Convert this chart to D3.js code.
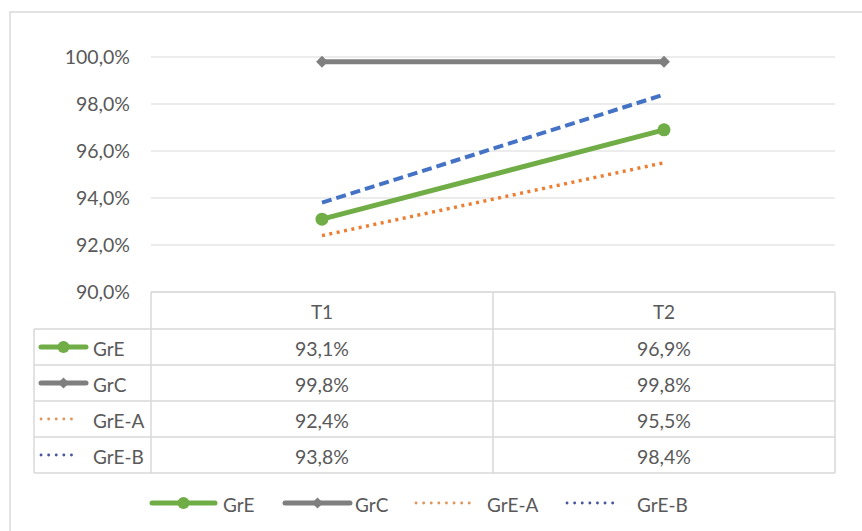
<!DOCTYPE html>
<html>
<head>
<meta charset="utf-8">
<script src="https://cdn.jsdelivr.net/npm/d3@7"></script>
<style>
  html, body { margin: 0; padding: 0; background: #fff; }
  svg { display: block; }
  text { font-family: Lato, "Open Sans", sans-serif; fill: #595959; }
</style>
</head>
<body>
<svg id="chart" width="862" height="531"></svg>
<script>
// ---- data ----
const categories = ["T1", "T2"];
const seriesNames = ["GrE", "GrC", "GrE-A", "GrE-B"];
const grE  = [93.1, 96.9];
const grC  = [99.8, 99.8];
const grEA = [92.4, 95.5];
const grEB = [93.8, 98.4];
const yTicks = [90, 92, 94, 96, 98, 100];

// ---- styles ----
const styles = {
  "GrE":   { color: "#70AD47", width: 5, dash: null, marker: "circle" },
  "GrC":   { color: "#7F7F7F", width: 5, dash: null, marker: "diamond" },
  "GrE-A": { color: "#ED7D31", width: 3.5, dash: "3 4.5", cap: "butt", marker: null, legendColor: "#E0955A" },
  "GrE-B": { color: "#4472C4", width: 4, dash: "10 5", cap: "butt", marker: null, legendColor: "#4A55A0" }
};
const seriesData = { "GrE": grE, "GrC": grC, "GrE-A": grEA, "GrE-B": grEB };

const locale = d3.formatLocale({ decimal: ",", thousands: ".", grouping: [3], currency: ["", "€"] });
const fmt = locale.format(".1f");

const svg = d3.select("#chart");

// outer chart border
svg.append("rect").attr("x", 10).attr("y", 12).attr("width", 900).attr("height", 600)
  .attr("fill", "none").attr("stroke", "#d9d9d9").attr("stroke-width", 1.5);

const plotLeft = 151, plotRight = 835, plotTop = 57, plotBottom = 292;
const x = d3.scaleBand().domain(categories).range([plotLeft, plotRight]);
const y = d3.scaleLinear().domain([90, 100]).range([plotBottom, plotTop]);

// gridlines
svg.append("g").selectAll("line").data(yTicks).join("line")
  .attr("x1", plotLeft).attr("x2", plotRight)
  .attr("y1", d => y(d)).attr("y2", d => y(d))
  .attr("stroke", "#d9d9d9").attr("stroke-width", 1.2);

// y axis labels
const yAxis = d3.axisLeft(y).tickValues(yTicks).tickSize(0).tickPadding(0)
  .tickFormat(d => fmt(d) + "%");
const gy = svg.append("g").attr("transform", `translate(130,0)`).call(yAxis);
gy.select(".domain").remove();
gy.selectAll("text").attr("font-size", 19.5).style("font-family", "Lato, 'Open Sans', sans-serif").attr("fill", "#595959");

// lines
const line = d3.line().x((d, i) => x(categories[i]) + x.bandwidth() / 2).y(d => y(d));
const drawOrder = ["GrC", "GrE-A", "GrE-B", "GrE"];
drawOrder.forEach(name => {
  const s = styles[name];
  svg.append("path").datum(seriesData[name])
    .attr("d", line).attr("fill", "none")
    .attr("stroke", s.color).attr("stroke-width", s.width)
    .attr("stroke-dasharray", s.dash)
    .attr("stroke-linecap", s.cap || "butt");
  if (s.marker === "circle") {
    svg.append("g").selectAll("circle").data(seriesData[name]).join("circle")
      .attr("cx", (d, i) => x(categories[i]) + x.bandwidth() / 2)
      .attr("cy", d => y(d)).attr("r", 6.5).attr("fill", s.color);
  } else if (s.marker === "diamond") {
    svg.append("g").selectAll("path").data(seriesData[name]).join("path")
      .attr("d", d3.symbol(d3.symbolDiamond2, 90))
      .attr("transform", (d, i) => `translate(${x(categories[i]) + x.bandwidth() / 2},${y(d)})`)
      .attr("fill", s.color);
  }
});

// ---- data table ----
const rowH = 36;
const tableTop = plotBottom;
const headerBottom = tableTop + 37;
const tableLeft = 34;
const lineColor = "#d9d9d9";
const tg = svg.append("g");
const hLines = [0, 1, 2, 3, 4].map(i => headerBottom + i * rowH);
tg.selectAll("line.h").data(hLines).join("line")
  .attr("x1", tableLeft).attr("x2", plotRight)
  .attr("y1", d => d).attr("y2", d => d)
  .attr("stroke", lineColor).attr("stroke-width", 1.5);
tg.append("line").attr("x1", plotLeft).attr("x2", plotRight).attr("y1", tableTop).attr("y2", tableTop)
  .attr("stroke", lineColor).attr("stroke-width", 1.5);
const tableBottom = hLines[hLines.length - 1];
tg.append("line").attr("x1", tableLeft).attr("x2", tableLeft).attr("y1", headerBottom).attr("y2", tableBottom).attr("stroke", lineColor).attr("stroke-width", 1.5);
[plotLeft, x("T2"), plotRight].forEach(xx => {
  tg.append("line").attr("x1", xx).attr("x2", xx).attr("y1", tableTop).attr("y2", tableBottom).attr("stroke", lineColor).attr("stroke-width", 1.5);
});
categories.forEach(c => {
  tg.append("text").attr("x", x(c) + x.bandwidth() / 2).attr("y", (tableTop + headerBottom) / 2 + 1)
    .attr("text-anchor", "middle").attr("dominant-baseline", "central").attr("font-size", 19).text(c);
});

function legendKey(g, name, x0, x1, cy) {
  const s = styles[name];
  if (s.marker) {
    g.append("line").attr("x1", x0).attr("x2", x1).attr("y1", cy).attr("y2", cy)
      .attr("stroke", s.color).attr("stroke-width", s.width).attr("stroke-linecap", "round");
    const cx = (x0 + x1) / 2;
    if (s.marker === "circle") g.append("circle").attr("cx", cx).attr("cy", cy).attr("r", 6).attr("fill", s.color);
    else g.append("path").attr("d", d3.symbol(d3.symbolDiamond2, 80)).attr("transform", `translate(${cx},${cy})`).attr("fill", s.color);
  } else {
    g.append("line").attr("x1", x0).attr("x2", x1).attr("y1", cy).attr("y2", cy)
      .attr("stroke", s.legendColor).attr("stroke-width", 2.8).attr("stroke-dasharray", "0.1 7.5").attr("stroke-linecap", "round");
  }
}

seriesNames.forEach((name, r) => {
  const cy = headerBottom + r * rowH + rowH / 2;
  legendKey(tg, name, 41, name.length > 3 ? 78 : 86, cy);
  tg.append("text").attr("x", 93).attr("y", cy + 1).attr("dominant-baseline", "central")
    .attr("font-size", 19).text(name);
  seriesData[name].forEach((v, i) => {
    tg.append("text").attr("x", x(categories[i]) + x.bandwidth() / 2).attr("y", cy + 1)
      .attr("text-anchor", "middle").attr("dominant-baseline", "central")
      .attr("font-size", 19.5).text(fmt(v) + "%");
  });
});

// ---- bottom legend ----
const legendY = 503;
const legendPos = [
  { name: "GrE",   x0: 152, x1: 215, tx: 223 },
  { name: "GrC",   x0: 285, x1: 350, tx: 355 },
  { name: "GrE-A", x0: 416, x1: 476, tx: 487 },
  { name: "GrE-B", x0: 567, x1: 617, tx: 637 }
];
const lg = svg.append("g");
legendPos.forEach(p => {
  legendKey(lg, p.name, p.x0, p.x1, legendY);
  lg.append("text").attr("x", p.tx).attr("y", legendY + 1).attr("dominant-baseline", "central")
    .attr("font-size", 19).text(p.name);
});
</script>
</body>
</html>
